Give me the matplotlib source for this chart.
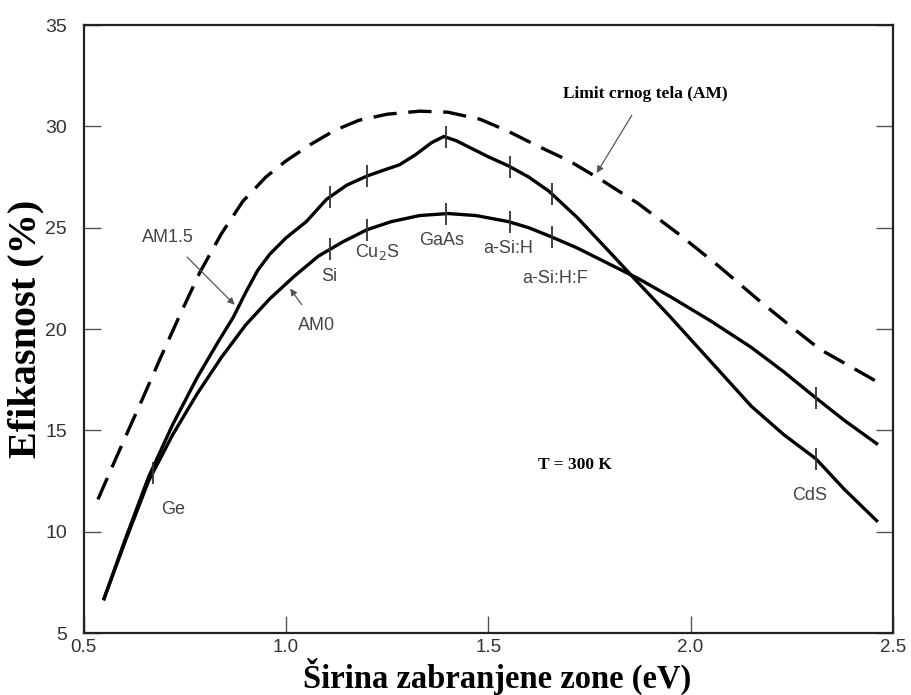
import numpy as np
import matplotlib
matplotlib.use("Agg")
import matplotlib.pyplot as plt

# band gap (eV) vs efficiency (%)
x_limit = [0.535, 0.57, 0.61, 0.646, 0.69, 0.74, 0.787, 0.84, 0.893, 0.95, 1.0, 1.06, 1.12, 1.18, 1.25,
           1.33, 1.40, 1.48, 1.55, 1.62, 1.70, 1.78, 1.87, 1.97, 2.07, 2.17, 2.25, 2.32, 2.40, 2.47]
y_limit = [11.6, 13.2, 15.0, 16.6, 18.6, 20.8, 22.8, 24.7, 26.3, 27.5, 28.3, 29.1, 29.8, 30.3, 30.6,
           30.75, 30.7, 30.35, 29.75, 29.05, 28.3, 27.35, 26.2, 24.7, 23.1, 21.4, 20.1, 19.0, 18.1, 17.3]

x_am15 = [0.55, 0.60, 0.66, 0.72, 0.78, 0.83, 0.87, 0.90, 0.93, 0.96, 1.00, 1.05, 1.10, 1.15, 1.20,
          1.25, 1.28, 1.32, 1.36, 1.39, 1.42, 1.46, 1.50, 1.55, 1.60, 1.65, 1.72, 1.80, 1.87,
          1.95, 2.05, 2.15, 2.23, 2.31, 2.38, 2.46]
y_am15 = [6.7, 9.5, 12.7, 15.3, 17.6, 19.3, 20.6, 21.8, 22.9, 23.7, 24.5, 25.3, 26.4, 27.1, 27.55,
          27.9, 28.1, 28.6, 29.2, 29.5, 29.3, 28.9, 28.5, 28.05, 27.5, 26.8, 25.5, 23.8, 22.3,
          20.6, 18.4, 16.2, 14.8, 13.6, 12.1, 10.55]

x_am0 = [0.55, 0.60, 0.66, 0.72, 0.78, 0.84, 0.90, 0.96, 1.02, 1.08, 1.14, 1.20, 1.26, 1.33,
         1.40, 1.47, 1.55, 1.60, 1.65, 1.72, 1.80, 1.87, 1.95, 2.05, 2.15, 2.23, 2.31, 2.38, 2.46]
y_am0 = [6.7, 9.4, 12.5, 14.8, 16.8, 18.6, 20.2, 21.5, 22.6, 23.6, 24.3, 24.9, 25.3, 25.6,
         25.7, 25.6, 25.3, 25.0, 24.6, 24.0, 23.2, 22.5, 21.6, 20.4, 19.1, 17.9, 16.6, 15.5, 14.35]

# materials marked on the curves
mat_names = ["Ge", "Si", "Cu$_2$S", "GaAs", "a-Si:H", "a-Si:H:F", "CdS"]
mat_gap = [0.67, 1.108, 1.20, 1.395, 1.553, 1.657, 2.31]
mat_label_x = [0.72, 1.106, 1.225, 1.385, 1.548, 1.664, 2.295]
mat_label_y = [11.1, 22.6, 23.8, 24.36, 23.97, 22.5, 11.8]

fig = plt.figure(figsize=(9.11, 6.95), dpi=100)
ax = fig.add_axes([0.092, 0.089, 0.888, 0.875])

ax.plot(x_limit, y_limit, color="black", lw=2.4, dashes=(7, 3.5))
ax.plot(x_am15, y_am15, color="black", lw=2.4)
ax.plot(x_am0, y_am0, color="black", lw=2.4)

# short vertical marks at the materials
for g in mat_gap:
    if g < 1.0:
        ax.plot([g], [np.interp(g, x_am0, y_am0)], marker="|", ms=16, mew=1.3, color="#333333")
        continue
    ax.plot([g], [np.interp(g, x_am15, y_am15)], marker="|", ms=16, mew=1.3, color="#333333")
    ax.plot([g], [np.interp(g, x_am0, y_am0)], marker="|", ms=16, mew=1.3, color="#333333")

for name, lx, ly in zip(mat_names, mat_label_x, mat_label_y):
    ax.text(lx, ly, name, ha="center", va="center", fontsize=13, color="#444444",
            family="Liberation Sans")

ax.annotate("AM1.5", xy=(0.873, 21.2), xytext=(0.708, 24.5), ha="center", va="center",
            fontsize=13, color="#444444", family="Liberation Sans",
            arrowprops=dict(arrowstyle="-|>", color="#555555", lw=0.9, shrinkA=8, shrinkB=0,
                            mutation_scale=10))
ax.annotate("AM0", xy=(1.01, 22.0), xytext=(1.075, 20.2), ha="center", va="center",
            fontsize=13, color="#444444", family="Liberation Sans",
            arrowprops=dict(arrowstyle="-|>", color="#555555", lw=0.9, shrinkA=8, shrinkB=0,
                            mutation_scale=10))
ax.annotate("Limit crnog tela (AM)", xy=(1.768, 27.7), xytext=(1.887, 31.6), ha="center", va="center",
            fontsize=12.5, fontweight="bold", family="Liberation Serif",
            arrowprops=dict(arrowstyle="-|>", color="#555555", lw=0.9, shrinkA=9, shrinkB=0,
                            mutation_scale=10))
ax.text(1.714, 13.3, "T = 300 K", ha="center", va="center", fontsize=12.5, fontweight="bold",
        family="Liberation Serif")

ax.set_xlim(0.5, 2.5)
ax.set_ylim(5, 35)
ax.set_xticks([0.5, 1.0, 1.5, 2.0, 2.5])
ax.set_xticklabels(["0.5", "1.0", "1.5", "2.0", "2.5"])
ax.set_yticks([5, 10, 15, 20, 25, 30, 35])
ax.tick_params(direction="in", length=12, width=1, color="#555555", labelcolor="#333333",
               labelsize=14, right=True)
ax.tick_params(axis="y", pad=12)
ax.tick_params(axis="x", pad=4, labelsize=13.5)
for lab in ax.get_xticklabels() + ax.get_yticklabels():
    lab.set_family("Liberation Sans")
for s in ax.spines.values():
    s.set_linewidth(1.6)
    s.set_color("#222222")

ax.set_xlabel("Širina zabranjene zone (eV)", fontsize=23.5, fontweight="bold",
              family="Liberation Serif", va="baseline")
ax.xaxis.set_label_coords(0.5105, -0.0896)
ax.set_ylabel("Efikasnost (%)", fontsize=29, fontweight="bold",
              family="Liberation Serif", va="center")
ax.yaxis.set_label_coords(-0.072, 0.5)

fig.savefig("out.png", dpi=100)
